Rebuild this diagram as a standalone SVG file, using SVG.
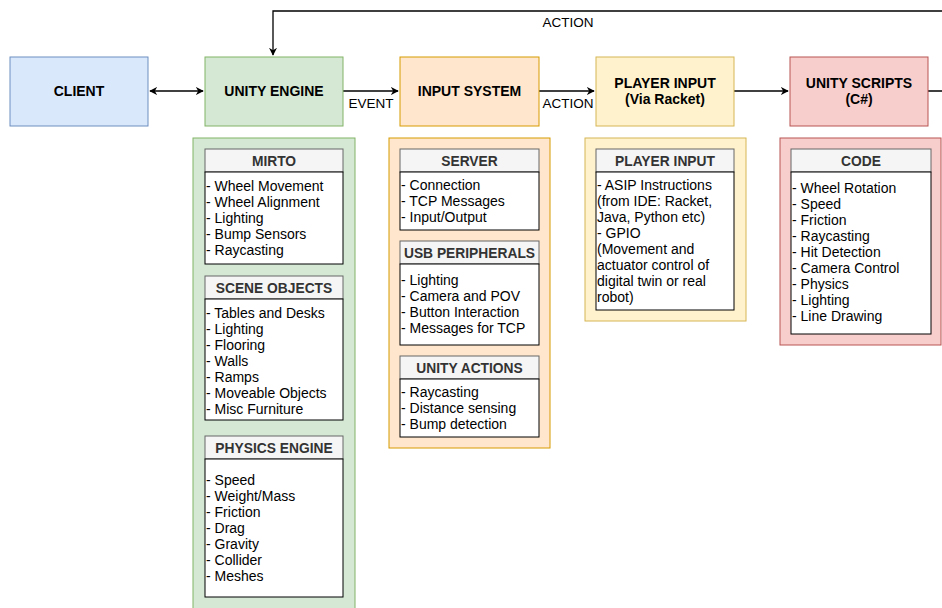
<svg xmlns="http://www.w3.org/2000/svg" width="942" height="608" viewBox="0 0 942 608">
<defs>
<marker id="arr" viewBox="0 0 10 10" refX="9" refY="5" markerWidth="8" markerHeight="8" markerUnits="userSpaceOnUse" orient="auto-start-reverse">
<path d="M0,0 L10,5 L0,10 L3,5 Z" fill="#000"/>
</marker>
<style>
text{font-family:"Liberation Sans",Arial,sans-serif;}
.lbl{font-size:14px;font-weight:bold;text-anchor:middle;fill:#000;}
.el{font-size:13.5px;text-anchor:middle;fill:#000;}
.hd{font-size:13.8px;font-weight:bold;text-anchor:middle;fill:#333;}
.it{font-size:14px;fill:#000;}
.hbox{fill:#f5f5f5;stroke:#666;stroke-width:1;}
.bbox{fill:#fff;stroke:#000;stroke-width:1;}
.conn{fill:none;stroke:#000;stroke-width:1.3;}
</style>
</defs>
<rect width="942" height="608" fill="#fff"/>

<g id="connectors">
<path class="conn" d="M150,91 H203" marker-start="url(#arr)" marker-end="url(#arr)"/>
<path class="conn" d="M343,91 H398" marker-end="url(#arr)"/>
<path class="conn" d="M539,91 H594" marker-end="url(#arr)"/>
<path class="conn" d="M734,91 H788" marker-end="url(#arr)"/>
<path class="conn" d="M928,91 H950 V11 H273 V55" marker-end="url(#arr)"/>
<text class="el" x="371" y="108">EVENT</text>
<text class="el" x="568" y="108">ACTION</text>
<text class="el" x="568" y="27">ACTION</text>
</g>

<g id="client">
<rect x="10" y="57" width="138" height="69" fill="#dae8fc" stroke="#6c8ebf"/>
<text class="lbl" x="79" y="96">CLIENT</text>
</g>
<g id="unity-engine">
<rect x="205" y="57" width="138" height="69" fill="#d5e8d4" stroke="#82b366"/>
<text class="lbl" x="274" y="96">UNITY ENGINE</text>
</g>
<g id="input-system">
<rect x="400" y="57" width="139" height="69" fill="#ffe6cc" stroke="#d79b00"/>
<text class="lbl" x="469.5" y="96">INPUT SYSTEM</text>
</g>
<g id="player-input">
<rect x="596" y="57" width="138" height="69" fill="#fff2cc" stroke="#d6b656"/>
<text class="lbl" x="665" y="88">PLAYER INPUT</text>
<text class="lbl" x="665" y="104">(Via Racket)</text>
</g>
<g id="unity-scripts">
<rect x="790" y="57" width="138" height="69" fill="#f8cecc" stroke="#b85450"/>
<text class="lbl" x="859" y="88">UNITY SCRIPTS</text>
<text class="lbl" x="859" y="104">(C#)</text>
</g>

<g id="unity-engine-details">
<rect x="193" y="138" width="162" height="472" fill="#d5e8d4" stroke="#82b366"/>
<g id="mirto">
<rect class="hbox" x="205" y="149" width="138" height="23"/>
<text class="hd" x="274" y="165.5">MIRTO</text>
<rect class="bbox" x="205" y="172" width="138" height="92"/>
<text class="it" x="206" y="190.5">- Wheel Movement</text>
<text class="it" x="206" y="206.5">- Wheel Alignment</text>
<text class="it" x="206" y="222.5">- Lighting</text>
<text class="it" x="206" y="238.5">- Bump Sensors</text>
<text class="it" x="206" y="254.5">- Raycasting</text>
</g>
<g id="scene-objects">
<rect class="hbox" x="205" y="276" width="138" height="23"/>
<text class="hd" x="274" y="292.5">SCENE OBJECTS</text>
<rect class="bbox" x="205" y="299" width="138" height="121"/>
<text class="it" x="206" y="317.5">- Tables and Desks</text>
<text class="it" x="206" y="333.5">- Lighting</text>
<text class="it" x="206" y="349.5">- Flooring</text>
<text class="it" x="206" y="366">- Walls</text>
<text class="it" x="206" y="382">- Ramps</text>
<text class="it" x="206" y="398">- Moveable Objects</text>
<text class="it" x="206" y="414">- Misc Furniture</text>
</g>
<g id="physics-engine">
<rect class="hbox" x="205" y="436" width="138" height="23"/>
<text class="hd" x="274" y="452.5">PHYSICS ENGINE</text>
<rect class="bbox" x="205" y="459" width="138" height="138"/>
<text class="it" x="206" y="484.5">- Speed</text>
<text class="it" x="206" y="500.5">- Weight/Mass</text>
<text class="it" x="206" y="516.5">- Friction</text>
<text class="it" x="206" y="533">- Drag</text>
<text class="it" x="206" y="549">- Gravity</text>
<text class="it" x="206" y="565">- Collider</text>
<text class="it" x="206" y="581">- Meshes</text>
</g>
</g>

<g id="input-system-details">
<rect x="389" y="138" width="161" height="310" fill="#ffe6cc" stroke="#d79b00"/>
<g id="server">
<rect class="hbox" x="400" y="149" width="139" height="23"/>
<text class="hd" x="469.5" y="165.5">SERVER</text>
<rect class="bbox" x="400" y="172" width="139" height="58"/>
<text class="it" x="401" y="189.5">- Connection</text>
<text class="it" x="401" y="205.5">- TCP Messages</text>
<text class="it" x="401" y="221.5">- Input/Output</text>
</g>
<g id="usb-peripherals">
<rect class="hbox" x="400" y="241" width="139" height="23"/>
<text class="hd" x="469.5" y="257.5">USB PERIPHERALS</text>
<rect class="bbox" x="400" y="264" width="139" height="81"/>
<text class="it" x="401" y="284.5">- Lighting</text>
<text class="it" x="401" y="300.5">- Camera and POV</text>
<text class="it" x="401" y="316.5">- Button Interaction</text>
<text class="it" x="401" y="333">- Messages for TCP</text>
</g>
<g id="unity-actions">
<rect class="hbox" x="400" y="356" width="139" height="23"/>
<text class="hd" x="469.5" y="372.5">UNITY ACTIONS</text>
<rect class="bbox" x="400" y="379" width="139" height="58"/>
<text class="it" x="401" y="396.5">- Raycasting</text>
<text class="it" x="401" y="412.5">- Distance sensing</text>
<text class="it" x="401" y="428.5">- Bump detection</text>
</g>
</g>

<g id="player-input-details">
<rect x="585" y="138" width="161" height="183" fill="#fff2cc" stroke="#d6b656"/>
<g id="player-input-list">
<rect class="hbox" x="596" y="149" width="138" height="23"/>
<text class="hd" x="665" y="165.5">PLAYER INPUT</text>
<rect class="bbox" x="596" y="172" width="138" height="138"/>
<text class="it" x="597" y="189.5">- ASIP Instructions</text>
<text class="it" x="597" y="205.5">(from IDE: Racket,</text>
<text class="it" x="597" y="221.5">Java, Python etc)</text>
<text class="it" x="597" y="237.5">- GPIO</text>
<text class="it" x="597" y="253.5">(Movement and</text>
<text class="it" x="597" y="269.5">actuator control of</text>
<text class="it" x="597" y="285.5">digital twin or real</text>
<text class="it" x="597" y="301.5">robot)</text>
</g>
</g>

<g id="unity-scripts-details">
<rect x="780" y="138" width="161" height="207" fill="#f8cecc" stroke="#b85450"/>
<g id="code">
<rect class="hbox" x="791" y="149" width="140" height="23"/>
<text class="hd" x="861" y="165.5">CODE</text>
<rect class="bbox" x="791" y="172" width="140" height="162"/>
<text class="it" x="792" y="192.5">- Wheel Rotation</text>
<text class="it" x="792" y="208.5">- Speed</text>
<text class="it" x="792" y="224.5">- Friction</text>
<text class="it" x="792" y="241">- Raycasting</text>
<text class="it" x="792" y="257">- Hit Detection</text>
<text class="it" x="792" y="273">- Camera Control</text>
<text class="it" x="792" y="289">- Physics</text>
<text class="it" x="792" y="305">- Lighting</text>
<text class="it" x="792" y="321">- Line Drawing</text>
</g>
</g>
</svg>
